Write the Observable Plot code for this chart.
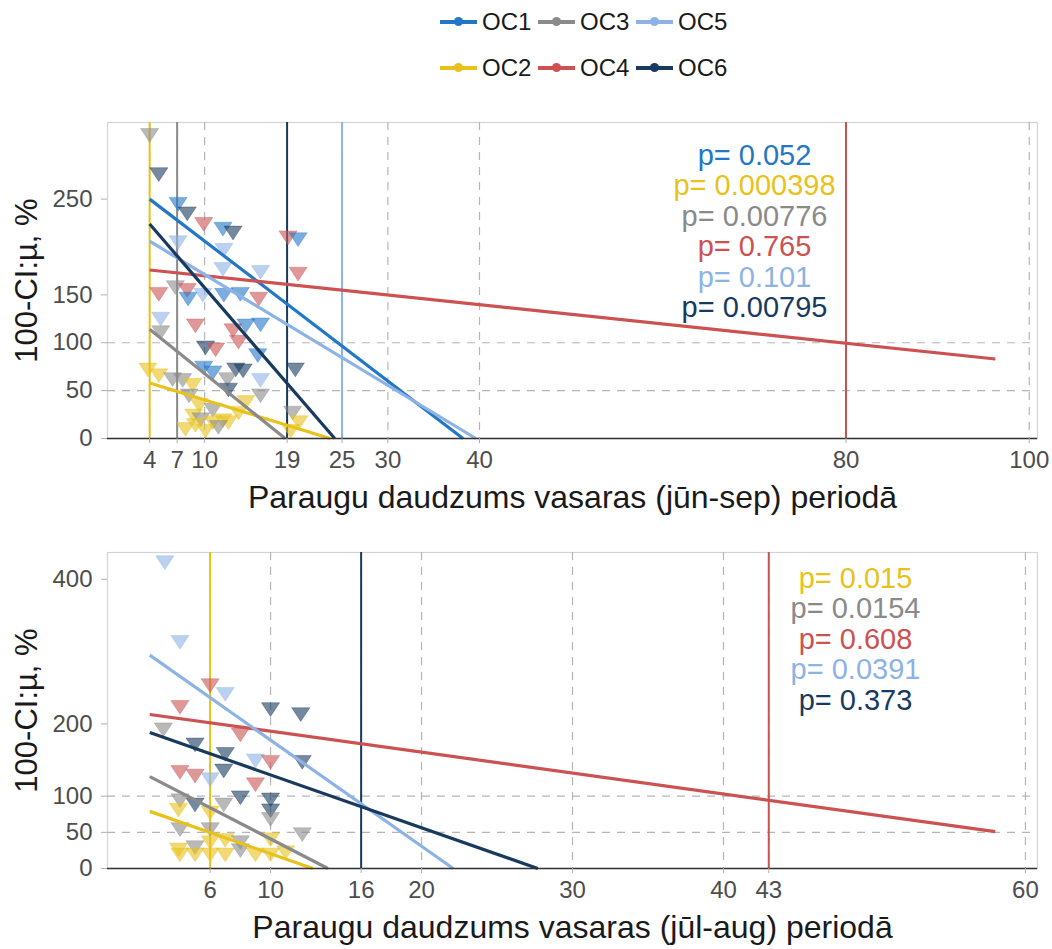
<!DOCTYPE html>
<html>
<head>
<meta charset="utf-8">
<script src="https://cdn.jsdelivr.net/npm/d3@7"></script>
<script src="https://cdn.jsdelivr.net/npm/@observablehq/plot@0.6"></script>
<style>
  body { margin: 0; background: #fff; font-family: "Liberation Sans", Arial, sans-serif; }
  #wrap { position: relative; width: 1052px; height: 949px; background: #fff; }
  .lrow { position: absolute; left: 440px; height: 32px; display: flex; align-items: center; }
  .litem { display: flex; align-items: center; margin-right: 6px; }
  .lkey { position: relative; width: 37px; height: 4px; margin-right: 5px; }
  .lkey span { position: absolute; left: 14px; top: -3px; width: 9px; height: 9px; border-radius: 50%; }
  .ltext { font-size: 24px; color: #1a1a1a; width: 50px; }
  #p1 { position: absolute; left: 0; top: 100px; }
  #p2 { position: absolute; left: 0; top: 530px; }
</style>
</head>
<body>
<div id="wrap">
  <div id="legend"></div>
  <div id="p1"></div>
  <div id="p2"></div>
</div>
<script>
// ---------- groups & colours ----------
const groups = ["OC1", "OC2", "OC3", "OC4", "OC5", "OC6"];
const groupColors = ["#2277c6", "#e8c21a", "#8a8a8a", "#cc5252", "#8db3e6", "#183a5e"];
const legendRow1 = ["OC1", "OC3", "OC5"];
const legendRow2 = ["OC2", "OC4", "OC6"];

// ---------- top panel (jūn-sep) ----------
const topXTicks = [4, 7, 10, 19, 25, 30, 40, 80, 100];
const topYTicks = [0, 50, 100, 150, 250];
const topYDashed = [50, 100];
const topVlineX = [4, 7, 19, 25, 80];
const topVlineGroup = ["OC2", "OC3", "OC6", "OC5", "OC4"];

const topX = [4, 5, 7.1, 8.1, 9.9, 12, 13.1, 19.1, 20.2, 7.1, 12.1, 12, 16.1, 20.2, 5, 6.8, 8.1, 8.2, 9.8, 12.1,
  13.9, 15.9, 5.2, 5.2, 9, 13.1, 14.5, 16.1, 13.7, 10.1, 11.2, 15.8, 3.8, 5, 9.9, 10.9, 13.4, 14.2, 19.9, 6.5,
  7.6, 12.5, 16.1, 8.7, 12.6, 16.1, 8.3, 9.4, 10.9, 8.8, 9.6, 10.9, 12, 12.6, 13.7, 14.5, 9, 11.5, 19.6, 20.3,
  19.4, 7.9, 10.1];
const topY = [319, 278, 247, 237, 226, 221, 217, 212, 210, 207, 199, 179, 176, 174, 153, 160, 157, 148, 152, 152,
  153, 148, 127, 113, 120, 115, 120, 121, 103, 97, 95, 89, 74, 68, 76, 71, 74, 73, 74, 64,
  63, 64, 63, 58, 53, 47, 47, 37, 32, 26, 22, 19, 21, 19, 29, 40, 16, 14, 29, 19,
  10, 12, 10];
const topGroup = ["OC3", "OC6", "OC1", "OC6", "OC4", "OC1", "OC6", "OC4", "OC1", "OC5", "OC5", "OC5", "OC5", "OC4", "OC4", "OC3", "OC4", "OC1", "OC5", "OC1",
  "OC1", "OC4", "OC5", "OC3", "OC4", "OC4", "OC1", "OC1", "OC4", "OC6", "OC4", "OC1", "OC2", "OC2", "OC1", "OC1", "OC6", "OC6", "OC6", "OC3",
  "OC3", "OC3", "OC5", "OC2", "OC6", "OC3", "OC3", "OC2", "OC3", "OC2", "OC3", "OC2", "OC2", "OC2", "OC2", "OC2", "OC2", "OC3", "OC3", "OC2",
  "OC2", "OC2", "OC2"];

// fitted regression lines (start / end)
const topFitGroup = ["OC1", "OC2", "OC3", "OC4", "OC5", "OC6"];
const topFitX0 = [4, 4, 4, 4, 4, 4];
const topFitY0 = [250, 58, 114, 176, 206, 224];
const topFitX1 = [38.2, 23.7, 18.8, 96.3, 39.6, 24.2];
const topFitY1 = [0, 0, 0, 83, 0, 0];

const topPText = ["p= 0.052", "p= 0.000398", "p= 0.00776", "p= 0.765", "p= 0.101", "p= 0.00795"];
const topPGroup = ["OC1", "OC2", "OC3", "OC4", "OC5", "OC6"];

// ---------- bottom panel (jūl-aug) ----------
const botXTicks = [6, 10, 16, 20, 30, 40, 43, 60];
const botYTicks = [0, 50, 100, 200, 400];
const botYDashed = [50, 100];
const botVlineX = [6, 16, 43];
const botVlineGroup = ["OC2", "OC6", "OC4"];

const botX = [3, 4, 6, 7, 4, 10, 12, 2.9, 8, 5, 7, 6.9, 9, 10, 12.1, 4, 5, 6, 9, 8,
  10, 5, 4, 6.9, 10, 10, 3.9, 4, 12.1, 6, 3.9, 5, 4, 6, 7, 8, 9, 10, 11, 10,
  7, 8, 6, 5, 6];
const botY = [426, 316, 256, 244, 226, 223, 216, 195, 188, 174, 161, 138, 152, 150, 150, 136, 131, 126, 119, 101,
  98, 91, 97, 91, 83, 71, 84, 57, 50, 57, 29, 32, 22, 22, 22, 28, 22, 22, 25, 43,
  42, 39, 39, 22, 80];
const botGroup = ["OC5", "OC5", "OC4", "OC5", "OC4", "OC6", "OC6", "OC3", "OC4", "OC6", "OC6", "OC6", "OC5", "OC4", "OC6", "OC4", "OC4", "OC5", "OC4", "OC6",
  "OC6", "OC6", "OC3", "OC3", "OC6", "OC3", "OC2", "OC3", "OC3", "OC3", "OC2", "OC3", "OC2", "OC2", "OC2", "OC3", "OC2", "OC2", "OC2", "OC2",
  "OC2", "OC3", "OC2", "OC2", "OC2"];

const botFitGroup = ["OC2", "OC3", "OC4", "OC5", "OC6"];
const botFitX0 = [2, 2, 2, 2, 2];
const botFitY0 = [79, 127, 213, 295, 188];
const botFitX1 = [12.8, 13.8, 58, 22.1, 27.7];
const botFitY1 = [0, 0, 51, 0, 0];

const botPText = ["p= 0.015", "p= 0.0154", "p= 0.608", "p= 0.0391", "p= 0.373"];
const botPGroup = ["OC2", "OC3", "OC4", "OC5", "OC6"];

// ---------- helpers ----------
const colorOf = g => groupColors[groups.indexOf(g)];
const FONT = "'Liberation Sans', Arial, sans-serif";

// downward-pointing triangle (a bit wider than equilateral, like ggplot shape 25)
const triDown = {
  draw(ctx, size) {
    const a = Math.sqrt(size / Math.PI);
    const hw = 1.42 * a, h = 2.15 * a;
    ctx.moveTo(0, (2 * h) / 3);
    ctx.lineTo(-hw, -h / 3);
    ctx.lineTo(hw, -h / 3);
    ctx.closePath();
  }
};

function panel(cfg) {
  const pts = cfg.xs.map((x, i) => ({x, y: cfg.ys[i], g: cfg.gs[i]}));
  const fits = cfg.fitG.map((g, i) => ({g, x1: cfg.fx0[i], y1: cfg.fy0[i], x2: cfg.fx1[i], y2: cfg.fy1[i]}));
  const vl = cfg.vx.map((x, i) => ({x, g: cfg.vg[i]}));
  const pMarks = cfg.pText.map((t, i) => Plot.text([t], {
    frameAnchor: "top", dx: cfg.pDx, dy: cfg.pDy + i * 30.5, lineAnchor: "middle", textAnchor: "middle",
    fill: colorOf(cfg.pGroup[i]), fontSize: 29, fontFamily: FONT
  }));
  return Plot.plot({
    width: 1052,
    height: cfg.height,
    marginTop: 22, marginBottom: cfg.marginBottom, marginLeft: 107, marginRight: 15,
    style: {fontFamily: FONT, background: "white", overflow: "visible"},
    x: {domain: cfg.xDomain},
    y: {domain: cfg.yDomain},
    color: {domain: groups, range: groupColors},
    marks: [
      Plot.frame({stroke: "#d4d4d4", strokeWidth: 1.2}),
      Plot.ruleX(cfg.xTicks, {stroke: "#b5b5b5", strokeDasharray: "8,7", strokeWidth: 1.2}),
      Plot.ruleY(cfg.yDashed, {stroke: "#b5b5b5", strokeDasharray: "8,7", strokeWidth: 1.2}),
      Plot.ruleX(vl, {x: "x", stroke: "g", strokeWidth: 2}),
      Plot.dot(pts, {x: "x", y: "y", fill: "g", fillOpacity: 0.6, stroke: "g", strokeOpacity: 0.35, strokeWidth: 1, symbol: triDown, r: 6.4}),
      Plot.link(fits, {x1: "x1", y1: "y1", x2: "x2", y2: "y2", stroke: "g", strokeWidth: 3.2}),
      Plot.ruleY([0], {stroke: "#333333", strokeWidth: 1.6}),
      Plot.axisX({ticks: cfg.xTicks, tickFormat: d => String(d), tickSize: 5, tickPadding: 7,
        stroke: "#b0b0b0", fill: "#4d4d4d", fontSize: 24, label: null}),
      Plot.axisY({ticks: cfg.yTicks, tickFormat: d => String(d), tickSize: 6, tickPadding: 9,
        stroke: "#b0b0b0", fill: "#4d4d4d", fontSize: 24, label: null}),
      Plot.text([cfg.xLabel], {frameAnchor: "bottom", dy: 59, lineAnchor: "middle", fontSize: 32, fill: "#1a1a1a"}),
      Plot.text([cfg.yLabel], {frameAnchor: "left", dx: -80, rotate: -90, lineAnchor: "middle", textAnchor: "middle", fontSize: 31, fill: "#1a1a1a"}),
      ...pMarks
    ]
  });
}

const yLabel = "100-CI:µ, %";

document.getElementById("p1").appendChild(panel({
  height: 420, marginBottom: 82,
  xs: topX, ys: topY, gs: topGroup,
  fitG: topFitGroup, fx0: topFitX0, fy0: topFitY0, fx1: topFitX1, fy1: topFitY1,
  vx: topVlineX, vg: topVlineGroup,
  xTicks: topXTicks, yTicks: topYTicks, yDashed: topYDashed,
  xDomain: [-0.6, 100.9], yDomain: [0, 330],
  xLabel: "Paraugu daudzums vasaras (jūn-sep) periodā", yLabel,
  pText: topPText, pGroup: topPGroup, pDx: 182, pDy: 33
}));

document.getElementById("p2").appendChild(panel({
  height: 419, marginBottom: 81,
  xs: botX, ys: botY, gs: botGroup,
  fitG: botFitGroup, fx0: botFitX0, fy0: botFitY0, fx1: botFitX1, fy1: botFitY1,
  vx: botVlineX, vg: botVlineGroup,
  xTicks: botXTicks, yTicks: botYTicks, yDashed: botYDashed,
  xDomain: [-0.8, 60.8], yDomain: [0, 437],
  xLabel: "Paraugu daudzums vasaras (jūl-aug) periodā", yLabel,
  pText: botPText, pGroup: botPGroup, pDx: 283, pDy: 26
}));

// ---------- legend ----------
const legend = document.getElementById("legend");
[[legendRow1, 6], [legendRow2, 52]].forEach(([row, top]) => {
  const r = document.createElement("div");
  r.className = "lrow";
  r.style.top = top + "px";
  row.forEach(g => {
    const it = document.createElement("div");
    it.className = "litem";
    const k = document.createElement("div");
    k.className = "lkey";
    k.style.background = colorOf(g);
    const dot = document.createElement("span");
    dot.style.background = colorOf(g);
    k.appendChild(dot);
    const t = document.createElement("div");
    t.className = "ltext";
    t.textContent = g;
    it.appendChild(k);
    it.appendChild(t);
    r.appendChild(it);
  });
  legend.appendChild(r);
});
</script>
</body>
</html>
